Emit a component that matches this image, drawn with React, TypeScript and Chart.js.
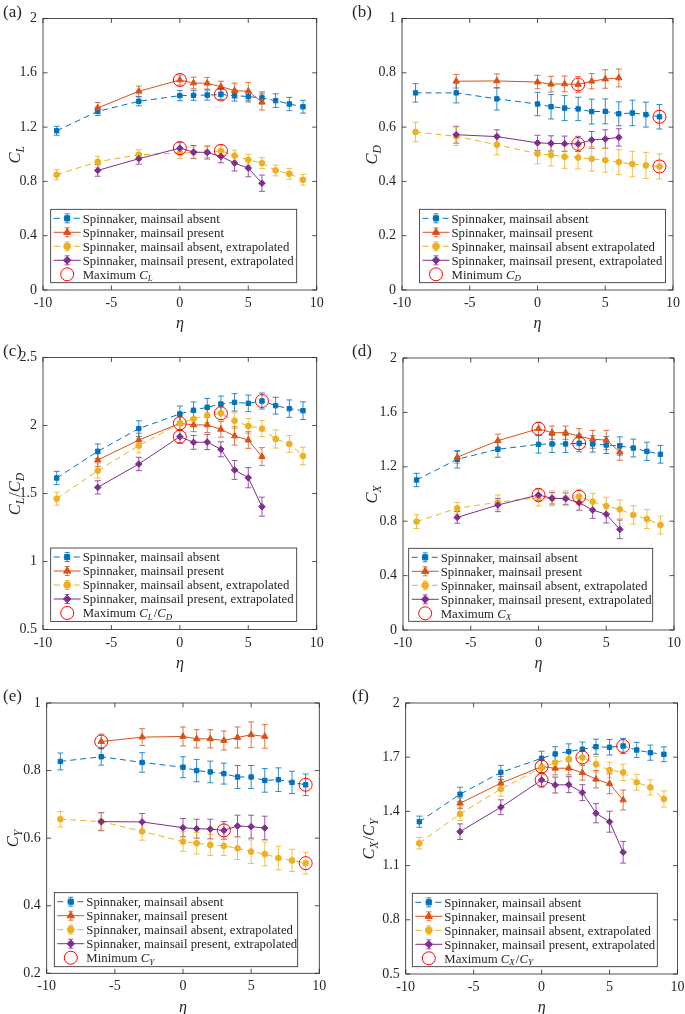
import React, { useEffect, useRef } from 'react';
import { Chart, registerables } from 'chart.js';
Chart.register(...registerables);

const FONT = '"Liberation Serif", "Times New Roman", serif';
Chart.defaults.font.family = FONT;

const BLUE = '#0072BD';
const ORANGE = '#D95319';
const YELLOW = '#EDB120';
const PURPLE = '#7E2F8E';
const RED = '#FF0000';
const AXIS = '#262626';

// ---------- shared categories / ticks ----------
const etaAbsent = [-9, -6, -3, 0, 1, 2, 3, 4, 5, 6, 7, 8, 9];
const etaPresent = [-6, -3, 0, 1, 2, 3, 4, 5, 6];
const xTicks = [-10, -5, 0, 5, 10];

// ---------- (a) C_L ----------
const clAbsent = [1.173, 1.316, 1.39, 1.432, 1.434, 1.436, 1.44, 1.432, 1.425, 1.415, 1.395, 1.37, 1.35];
const clAbsentErr = [0.033, 0.03, 0.033, 0.037, 0.037, 0.037, 0.037, 0.04, 0.04, 0.044, 0.05, 0.049, 0.047];
const clPresent = [1.341, 1.464, 1.547, 1.525, 1.523, 1.498, 1.469, 1.464, 1.385];
const clPresentErr = [0.04, 0.038, 0.037, 0.043, 0.043, 0.04, 0.055, 0.066, 0.059];
const clAbsentExt = [0.849, 0.945, 0.996, 1.01, 1.012, 1.015, 1.025, 0.99, 0.959, 0.935, 0.881, 0.856, 0.812];
const clAbsentExtErr = [0.037, 0.04, 0.037, 0.04, 0.04, 0.04, 0.04, 0.04, 0.04, 0.04, 0.04, 0.04, 0.04];
const clPresentExt = [0.881, 0.967, 1.045, 1.016, 1.013, 0.984, 0.935, 0.898, 0.787];
const clPresentExtErr = [0.043, 0.04, 0.043, 0.048, 0.048, 0.047, 0.058, 0.064, 0.06];
const clMarkEta = [0, 3, 0, 3];
const clMarkVal = [1.547, 1.44, 1.045, 1.025];
const yTicksCL = [0, 0.4, 0.8, 1.2, 1.6, 2];

// ---------- (b) C_D ----------
const cdAbsent = [0.726, 0.726, 0.704, 0.685, 0.675, 0.67, 0.667, 0.657, 0.658, 0.649, 0.652, 0.646, 0.638];
const cdAbsentErr = [0.034, 0.037, 0.041, 0.043, 0.045, 0.046, 0.043, 0.046, 0.046, 0.044, 0.047, 0.046, 0.045];
const cdPresent = [0.769, 0.77, 0.766, 0.758, 0.759, 0.757, 0.769, 0.777, 0.781];
const cdPresentErr = [0.025, 0.026, 0.025, 0.029, 0.029, 0.029, 0.028, 0.034, 0.033];
const cdAbsentExt = [0.582, 0.566, 0.535, 0.502, 0.497, 0.491, 0.488, 0.483, 0.478, 0.471, 0.464, 0.459, 0.455];
const cdAbsentExtErr = [0.036, 0.034, 0.037, 0.037, 0.04, 0.043, 0.042, 0.045, 0.044, 0.046, 0.047, 0.048, 0.046];
const cdPresentExt = [0.572, 0.565, 0.542, 0.54, 0.539, 0.538, 0.553, 0.556, 0.562];
const cdPresentExtErr = [0.031, 0.025, 0.028, 0.028, 0.028, 0.028, 0.031, 0.034, 0.032];
const cdMarkEta = [3, 9, 3, 9];
const cdMarkVal = [0.757, 0.638, 0.538, 0.455];
const yTicksCD = [0, 0.2, 0.4, 0.6, 0.8, 1];

// ---------- (c) C_L / C_D ----------
const ldAbsent = [1.614, 1.81, 1.977, 2.085, 2.112, 2.134, 2.158, 2.17, 2.163, 2.18, 2.146, 2.124, 2.109];
const ldAbsentErr = [0.049, 0.054, 0.058, 0.058, 0.061, 0.065, 0.058, 0.064, 0.061, 0.059, 0.062, 0.064, 0.065];
const ldPresent = [1.746, 1.893, 2.016, 2.004, 2.004, 1.972, 1.923, 1.893, 1.771];
const ldPresentErr = [0.047, 0.051, 0.054, 0.049, 0.056, 0.058, 0.067, 0.061, 0.066];
const ldAbsentExt = [1.462, 1.668, 1.852, 2.016, 2.048, 2.075, 2.09, 2.035, 1.996, 1.977, 1.901, 1.864, 1.776];
const ldAbsentExtErr = [0.048, 0.055, 0.053, 0.052, 0.053, 0.053, 0.049, 0.058, 0.055, 0.059, 0.067, 0.062, 0.065];
const ldPresentExt = [1.545, 1.717, 1.918, 1.876, 1.878, 1.825, 1.673, 1.616, 1.403];
const ldPresentExtErr = [0.049, 0.049, 0.049, 0.051, 0.055, 0.055, 0.069, 0.074, 0.07];
const ldMarkEta = [0, 6, 0, 3];
const ldMarkVal = [2.016, 2.18, 1.918, 2.09];
const yTicksLD = [0.5, 1, 1.5, 2, 2.5];

// ---------- (d) C_X ----------
const cxAbsent = [1.103, 1.255, 1.329, 1.365, 1.368, 1.368, 1.373, 1.368, 1.36, 1.353, 1.338, 1.314, 1.292];
const cxAbsentErr = [0.049, 0.064, 0.059, 0.064, 0.063, 0.063, 0.063, 0.06, 0.062, 0.067, 0.066, 0.067, 0.065];
const cxPresent = [1.27, 1.392, 1.48, 1.451, 1.451, 1.426, 1.402, 1.397, 1.309];
const cxPresentErr = [0.043, 0.048, 0.047, 0.049, 0.049, 0.055, 0.066, 0.071, 0.061];
const cxAbsentExt = [0.797, 0.895, 0.939, 0.975, 0.968, 0.968, 0.98, 0.944, 0.912, 0.887, 0.846, 0.816, 0.772];
const cxAbsentExtErr = [0.051, 0.043, 0.054, 0.064, 0.055, 0.055, 0.055, 0.061, 0.064, 0.069, 0.067, 0.07, 0.066];
const cxPresentExt = [0.828, 0.919, 0.993, 0.968, 0.966, 0.936, 0.882, 0.851, 0.74];
const cxPresentExtErr = [0.043, 0.049, 0.045, 0.042, 0.042, 0.055, 0.061, 0.064, 0.069];
const cxMarkEta = [0, 3, 0, 3];
const cxMarkVal = [1.48, 1.373, 0.993, 0.98];
const yTicksCX = [0, 0.4, 0.8, 1.2, 1.6, 2];

// ---------- (e) C_Y ----------
const cyAbsent = [0.827, 0.841, 0.824, 0.81, 0.8, 0.796, 0.791, 0.781, 0.781, 0.771, 0.773, 0.765, 0.758];
const cyAbsentErr = [0.025, 0.025, 0.029, 0.031, 0.033, 0.032, 0.031, 0.034, 0.034, 0.035, 0.035, 0.033, 0.032];
const cyPresent = [0.886, 0.899, 0.901, 0.894, 0.894, 0.889, 0.898, 0.906, 0.901];
const cyPresentErr = [0.022, 0.025, 0.028, 0.027, 0.027, 0.028, 0.031, 0.038, 0.035];
const cyAbsentExt = [0.656, 0.649, 0.62, 0.59, 0.585, 0.58, 0.577, 0.57, 0.56, 0.553, 0.541, 0.534, 0.526];
const cyAbsentExtErr = [0.023, 0.025, 0.026, 0.029, 0.032, 0.031, 0.028, 0.033, 0.035, 0.035, 0.035, 0.033, 0.032];
const cyPresentExt = [0.649, 0.648, 0.631, 0.628, 0.627, 0.623, 0.636, 0.634, 0.63];
const cyPresentExtErr = [0.027, 0.025, 0.027, 0.028, 0.029, 0.026, 0.032, 0.034, 0.035];
const cyMarkEta = [-6, 9, 3, 9];
const cyMarkVal = [0.886, 0.758, 0.623, 0.526];
const yTicksCY = [0.2, 0.4, 0.6, 0.8, 1];

// ---------- (f) C_X / C_Y ----------
const xyAbsent = [1.343, 1.495, 1.616, 1.694, 1.718, 1.731, 1.744, 1.758, 1.755, 1.762, 1.74, 1.725, 1.716];
const xyAbsentErr = [0.031, 0.039, 0.039, 0.039, 0.04, 0.043, 0.04, 0.042, 0.043, 0.042, 0.042, 0.042, 0.041];
const xyPresent = [1.445, 1.556, 1.648, 1.639, 1.639, 1.614, 1.578, 1.553, 1.463];
const xyPresentErr = [0.03, 0.037, 0.037, 0.037, 0.037, 0.041, 0.048, 0.055, 0.055];
const xyAbsentExt = [1.224, 1.386, 1.524, 1.642, 1.67, 1.69, 1.699, 1.661, 1.629, 1.616, 1.561, 1.533, 1.469];
const xyAbsentExtErr = [0.032, 0.037, 0.04, 0.041, 0.041, 0.043, 0.041, 0.043, 0.043, 0.045, 0.044, 0.042, 0.045];
const xyPresentExt = [1.288, 1.423, 1.574, 1.546, 1.548, 1.504, 1.39, 1.343, 1.174];
const xyPresentExtErr = [0.043, 0.041, 0.04, 0.044, 0.044, 0.044, 0.053, 0.058, 0.06];
const xyMarkEta = [0, 6, 0, 3];
const xyMarkVal = [1.648, 1.762, 1.574, 1.699];
const yTicksXY = [0.5, 0.8, 1.1, 1.4, 1.7, 2];

// ---------- legend labels ----------
const seriesNames = [
  'Spinnaker, mainsail absent',
  'Spinnaker, mainsail present',
  'Spinnaker, mainsail absent, extrapolated',
  'Spinnaker, mainsail present, extrapolated',
];
const seriesNamesB = [
  'Spinnaker, mainsail absent',
  'Spinnaker, mainsail present',
  'Spinnaker, mainsail absent extrapolated',
  'Spinnaker, mainsail present, extrapolated',
];

type Part = { t: string; i?: boolean; s?: boolean };

const STYLES = [
  { color: BLUE, dash: [6, 4], marker: 'rect', r: 3.6 },
  { color: ORANGE, dash: [] as number[], marker: 'triangle', r: 4.2 },
  { color: YELLOW, dash: [6, 4], marker: 'circle', r: 3.4 },
  { color: PURPLE, dash: [] as number[], marker: 'rectRot', r: 3.8 },
];

const TICK_SIZE = 14;
const LEG_SIZE = 12.8;
const YLAB_SIZE = 16.5;

type Series = { eta: number[]; v: number[]; e: number[] };
type PanelDef = {
  tag: string;
  canvas: { x: number; y: number; w: number; h: number };
  area: { l: number; t: number; r: number; b: number };
  yMin: number;
  yMax: number;
  yTicks: number[];
  yLabel: Part[];
  yLabelX: number;
  tagX: number;
  series: Series[];
  markEta: number[];
  markVal: number[];
  legend: { x: number; y: number; w: number; h: number };
  names: string[];
  last: Part[];
};

const PANELS: PanelDef[] = [
  {
    tag: '(a)', canvas: { x: 0, y: 0, w: 342, h: 338 }, area: { l: 43, t: 18.5, r: 316.7, b: 290 },
    yMin: 0, yMax: 2, yTicks: yTicksCL, yLabel: [{ t: 'C', i: true }, { t: 'L', i: true, s: true }], yLabelX: 15, tagX: 3,
    series: [
      { eta: etaAbsent, v: clAbsent, e: clAbsentErr },
      { eta: etaPresent, v: clPresent, e: clPresentErr },
      { eta: etaAbsent, v: clAbsentExt, e: clAbsentExtErr },
      { eta: etaPresent, v: clPresentExt, e: clPresentExtErr },
    ],
    markEta: clMarkEta, markVal: clMarkVal,
    legend: { x: 50.7, y: 209.3, w: 246, h: 73.4 }, names: seriesNames,
    last: [{ t: 'Maximum ' }, { t: 'C', i: true }, { t: 'L', i: true, s: true }],
  },
  {
    tag: '(b)', canvas: { x: 342, y: 0, w: 343, h: 338 }, area: { l: 402, t: 18.5, r: 673, b: 290 },
    yMin: 0, yMax: 1, yTicks: yTicksCD, yLabel: [{ t: 'C', i: true }, { t: 'D', i: true, s: true }], yLabelX: 372, tagX: 352,
    series: [
      { eta: etaAbsent, v: cdAbsent, e: cdAbsentErr },
      { eta: etaPresent, v: cdPresent, e: cdPresentErr },
      { eta: etaAbsent, v: cdAbsentExt, e: cdAbsentExtErr },
      { eta: etaPresent, v: cdPresentExt, e: cdPresentExtErr },
    ],
    markEta: cdMarkEta, markVal: cdMarkVal,
    legend: { x: 419.5, y: 209.3, w: 246, h: 73.4 }, names: seriesNamesB,
    last: [{ t: 'Minimum ' }, { t: 'C', i: true }, { t: 'D', i: true, s: true }],
  },
  {
    tag: '(c)', canvas: { x: 0, y: 338, w: 342, h: 342 }, area: { l: 43, t: 357.5, r: 316.7, b: 629.5 },
    yMin: 0.5, yMax: 2.5, yTicks: yTicksLD,
    yLabel: [{ t: 'C', i: true }, { t: 'L', i: true, s: true }, { t: '/' }, { t: 'C', i: true }, { t: 'D', i: true, s: true }],
    yLabelX: 15, tagX: 3,
    series: [
      { eta: etaAbsent, v: ldAbsent, e: ldAbsentErr },
      { eta: etaPresent, v: ldPresent, e: ldPresentErr },
      { eta: etaAbsent, v: ldAbsentExt, e: ldAbsentExtErr },
      { eta: etaPresent, v: ldPresentExt, e: ldPresentExtErr },
    ],
    markEta: ldMarkEta, markVal: ldMarkVal,
    legend: { x: 50.7, y: 548, w: 246, h: 73.4 }, names: seriesNames,
    last: [{ t: 'Maximum ' }, { t: 'C', i: true }, { t: 'L', i: true, s: true }, { t: '/' }, { t: 'C', i: true }, { t: 'D', i: true, s: true }],
  },
  {
    tag: '(d)', canvas: { x: 342, y: 338, w: 343, h: 342 }, area: { l: 403, t: 358, r: 674, b: 630 },
    yMin: 0, yMax: 2, yTicks: yTicksCX, yLabel: [{ t: 'C', i: true }, { t: 'X', i: true, s: true }], yLabelX: 372, tagX: 352,
    series: [
      { eta: etaAbsent, v: cxAbsent, e: cxAbsentErr },
      { eta: etaPresent, v: cxPresent, e: cxPresentErr },
      { eta: etaAbsent, v: cxAbsentExt, e: cxAbsentExtErr },
      { eta: etaPresent, v: cxPresentExt, e: cxPresentExtErr },
    ],
    markEta: cxMarkEta, markVal: cxMarkVal,
    legend: { x: 408.7, y: 548.3, w: 244, h: 73 }, names: seriesNames,
    last: [{ t: 'Maximum ' }, { t: 'C', i: true }, { t: 'X', i: true, s: true }],
  },
  {
    tag: '(e)', canvas: { x: 0, y: 680, w: 342, h: 334 }, area: { l: 46.7, t: 703, r: 319.3, b: 973.3 },
    yMin: 0.2, yMax: 1, yTicks: yTicksCY, yLabel: [{ t: 'C', i: true }, { t: 'Y', i: true, s: true }], yLabelX: 13, tagX: 3,
    series: [
      { eta: etaAbsent, v: cyAbsent, e: cyAbsentErr },
      { eta: etaPresent, v: cyPresent, e: cyPresentErr },
      { eta: etaAbsent, v: cyAbsentExt, e: cyAbsentExtErr },
      { eta: etaPresent, v: cyPresentExt, e: cyPresentExtErr },
    ],
    markEta: cyMarkEta, markVal: cyMarkVal,
    legend: { x: 54.3, y: 892.7, w: 243.4, h: 74 }, names: seriesNames,
    last: [{ t: 'Minimum ' }, { t: 'C', i: true }, { t: 'Y', i: true, s: true }],
  },
  {
    tag: '(f)', canvas: { x: 342, y: 680, w: 343, h: 334 }, area: { l: 405.7, t: 703, r: 677.7, b: 974 },
    yMin: 0.5, yMax: 2, yTicks: yTicksXY,
    yLabel: [{ t: 'C', i: true }, { t: 'X', i: true, s: true }, { t: '/' }, { t: 'C', i: true }, { t: 'Y', i: true, s: true }],
    yLabelX: 369, tagX: 352,
    series: [
      { eta: etaAbsent, v: xyAbsent, e: xyAbsentErr },
      { eta: etaPresent, v: xyPresent, e: xyPresentErr },
      { eta: etaAbsent, v: xyAbsentExt, e: xyAbsentExtErr },
      { eta: etaPresent, v: xyPresentExt, e: xyPresentExtErr },
    ],
    markEta: xyMarkEta, markVal: xyMarkVal,
    legend: { x: 412.3, y: 893.3, w: 245, h: 73.4 }, names: seriesNames,
    last: [{ t: 'Maximum ' }, { t: 'C', i: true }, { t: 'X', i: true, s: true }, { t: '/' }, { t: 'C', i: true }, { t: 'Y', i: true, s: true }],
  },
];

function setFont(ctx: CanvasRenderingContext2D, p: Part, size: number) {
  const fs = p.s ? size * 0.7 : size;
  ctx.font = `${p.i ? 'italic ' : ''}${fs}px ${FONT}`;
}

function richWidth(ctx: CanvasRenderingContext2D, parts: Part[], size: number) {
  let w = 0;
  for (const p of parts) {
    setFont(ctx, p, size);
    w += ctx.measureText(p.t).width + (p.s ? 1 : 0);
  }
  return w;
}

function drawRich(ctx: CanvasRenderingContext2D, parts: Part[], x: number, baseY: number, size: number) {
  let cx = x;
  ctx.textAlign = 'left';
  ctx.textBaseline = 'alphabetic';
  for (const p of parts) {
    setFont(ctx, p, size);
    ctx.fillText(p.t, cx, baseY + (p.s ? size * 0.22 : 0));
    cx += ctx.measureText(p.t).width + (p.s ? 1 : 0);
  }
}

function drawMarker(ctx: CanvasRenderingContext2D, kind: string, x: number, y: number, r: number) {
  ctx.beginPath();
  if (kind === 'rect') {
    const h = r * Math.SQRT1_2;
    ctx.rect(x - h, y - h, 2 * h, 2 * h);
  } else if (kind === 'triangle') {
    ctx.moveTo(x, y - r);
    ctx.lineTo(x + 0.866 * r, y + 0.5 * r);
    ctx.lineTo(x - 0.866 * r, y + 0.5 * r);
    ctx.closePath();
  } else if (kind === 'circle') {
    ctx.arc(x, y, r, 0, Math.PI * 2);
  } else {
    ctx.moveTo(x - r, y);
    ctx.lineTo(x, y - r);
    ctx.lineTo(x + r, y);
    ctx.lineTo(x, y + r);
    ctx.closePath();
  }
  ctx.fill();
  ctx.stroke();
}

function makePlugin(p: PanelDef) {
  const ox = p.canvas.x;
  const oy = p.canvas.y;
  return {
    id: 'deco' + p.tag.replace(/[()]/g, ''),
    beforeDatasetsDraw(chart: any) {
      const ctx: CanvasRenderingContext2D = chart.ctx;
      const xs = chart.scales.x;
      const ys = chart.scales.y;
      ctx.save();
      ctx.setLineDash([]);
      ctx.lineWidth = 1;
      ctx.globalAlpha = 0.8;
      for (let k = p.series.length - 1; k >= 0; k--) {
        const s = p.series[k];
        ctx.strokeStyle = STYLES[k].color;
        s.eta.forEach((eta, i) => {
          const x = xs.getPixelForValue(eta);
          const y1 = ys.getPixelForValue(s.v[i] - s.e[i]);
          const y2 = ys.getPixelForValue(s.v[i] + s.e[i]);
          ctx.beginPath();
          ctx.moveTo(x, y1);
          ctx.lineTo(x, y2);
          ctx.moveTo(x - 3, y1);
          ctx.lineTo(x + 3, y1);
          ctx.moveTo(x - 3, y2);
          ctx.lineTo(x + 3, y2);
          ctx.stroke();
        });
      }
      ctx.restore();
    },
    afterDatasetsDraw(chart: any) {
      const ctx: CanvasRenderingContext2D = chart.ctx;
      const { left, right, top, bottom } = chart.chartArea;
      const xs = chart.scales.x;
      const ys = chart.scales.y;
      ctx.save();
      ctx.setLineDash([]);
      ctx.strokeStyle = AXIS;
      ctx.lineWidth = 0.8;
      ctx.strokeRect(left, top, right - left, bottom - top);
      const tl = 4.5;
      ctx.beginPath();
      xTicks.forEach((v) => {
        const x = xs.getPixelForValue(v);
        ctx.moveTo(x, bottom);
        ctx.lineTo(x, bottom - tl);
        ctx.moveTo(x, top);
        ctx.lineTo(x, top + tl);
      });
      p.yTicks.forEach((v) => {
        const y = ys.getPixelForValue(v);
        ctx.moveTo(left, y);
        ctx.lineTo(left + tl, y);
        ctx.moveTo(right, y);
        ctx.lineTo(right - tl, y);
      });
      ctx.stroke();
      ctx.restore();
    },
    afterDraw(chart: any) {
      const ctx: CanvasRenderingContext2D = chart.ctx;
      const { left, right, bottom, top } = chart.chartArea;
      ctx.save();
      // legend
      const L = p.legend;
      const bx = L.x - ox;
      const by = L.y - oy;
      ctx.fillStyle = '#ffffff';
      ctx.fillRect(bx, by, L.w, L.h);
      ctx.strokeStyle = AXIS;
      ctx.lineWidth = 0.8;
      ctx.setLineDash([]);
      ctx.strokeRect(bx, by, L.w, L.h);
      for (let i = 0; i < 5; i++) {
        const cy = by + 9 + i * 14;
        const mx = bx + 16.5;
        if (i < 4) {
          const st = STYLES[i];
          ctx.strokeStyle = st.color;
          ctx.fillStyle = st.color;
          ctx.lineWidth = 1;
          ctx.setLineDash(st.dash);
          ctx.beginPath();
          ctx.moveTo(bx + 3, cy);
          ctx.lineTo(bx + 30, cy);
          ctx.stroke();
          ctx.setLineDash([]);
          ctx.globalAlpha = 0.8;
          ctx.beginPath();
          ctx.moveTo(mx, cy - 4.5);
          ctx.lineTo(mx, cy + 4.5);
          ctx.moveTo(mx - 2.5, cy - 4.5);
          ctx.lineTo(mx + 2.5, cy - 4.5);
          ctx.moveTo(mx - 2.5, cy + 4.5);
          ctx.lineTo(mx + 2.5, cy + 4.5);
          ctx.stroke();
          ctx.globalAlpha = 1;
          ctx.lineWidth = 1;
          drawMarker(ctx, st.marker, mx, cy, st.r);
          ctx.fillStyle = AXIS;
          drawRich(ctx, [{ t: p.names[i] }], bx + 32, cy + LEG_SIZE * 0.33, LEG_SIZE);
        } else {
          ctx.strokeStyle = RED;
          ctx.lineWidth = 1;
          ctx.beginPath();
          ctx.arc(mx, cy, 6.5, 0, Math.PI * 2);
          ctx.stroke();
          ctx.fillStyle = AXIS;
          drawRich(ctx, p.last, bx + 32, cy + LEG_SIZE * 0.33, LEG_SIZE);
        }
      }
      // x label
      ctx.fillStyle = AXIS;
      ctx.font = `italic 16px ${FONT}`;
      ctx.textAlign = 'center';
      ctx.textBaseline = 'middle';
      ctx.fillText('\u03B7', (left + right) / 2, bottom + 34);
      // y label (rotated)
      const w = richWidth(ctx, p.yLabel, YLAB_SIZE);
      ctx.save();
      ctx.translate(p.yLabelX - ox, (top + bottom) / 2);
      ctx.rotate(-Math.PI / 2);
      drawRich(ctx, p.yLabel, -w / 2, YLAB_SIZE * 0.33, YLAB_SIZE);
      ctx.restore();
      // panel tag
      ctx.fillStyle = AXIS;
      ctx.font = `17px ${FONT}`;
      ctx.textAlign = 'left';
      ctx.textBaseline = 'middle';
      ctx.fillText(p.tag, p.tagX - ox, top - 6);
      ctx.restore();
    },
  };
}

function buildConfig(p: PanelDef): any {
  const yW = p.area.l - p.canvas.x;
  const padT = p.area.t - p.canvas.y;
  const padR = p.canvas.x + p.canvas.w - p.area.r;
  const xH = p.canvas.y + p.canvas.h - p.area.b;

  const datasets: any[] = [
    {
      data: p.markEta.map((x, i) => ({ x, y: p.markVal[i] })),
      showLine: false,
      pointStyle: 'circle',
      pointRadius: 6.5,
      pointBorderWidth: 1,
      pointBorderColor: RED,
      pointBackgroundColor: 'rgba(0,0,0,0)',
      borderColor: RED,
      backgroundColor: 'rgba(0,0,0,0)',
      order: 0,
    },
  ];
  for (let k = 3; k >= 0; k--) {
    const s = p.series[k];
    const st = STYLES[k];
    datasets.push({
      data: s.eta.map((x, i) => ({ x, y: s.v[i] })),
      borderColor: st.color,
      backgroundColor: st.color,
      pointBackgroundColor: st.color,
      pointBorderColor: st.color,
      borderWidth: 1,
      borderDash: st.dash,
      pointStyle: st.marker,
      pointRadius: st.r - 0.5,
      pointBorderWidth: 1,
      tension: 0,
      fill: false,
      order: 4 - k,
    });
  }

  const tickFont = { family: FONT, size: TICK_SIZE };
  return {
    type: 'line',
    data: { datasets },
    options: {
      animation: false,
      responsive: false,
      devicePixelRatio: 1,
      events: [],
      layout: { padding: { left: 0, top: padT, right: padR, bottom: 0 } },
      plugins: { legend: { display: false }, tooltip: { enabled: false }, title: { display: false } },
      scales: {
        x: {
          type: 'linear',
          min: -10,
          max: 10,
          afterBuildTicks: (s: any) => {
            s.ticks = xTicks.map((v) => ({ value: v }));
          },
          afterFit: (s: any) => {
            s.height = xH;
            s.paddingLeft = 0;
            s.paddingRight = 0;
          },
          grid: { display: false, drawTicks: false },
          border: { display: false },
          ticks: {
            padding: 5,
            font: tickFont,
            color: AXIS,
            maxRotation: 0,
            autoSkip: false,
            callback: (v: any) => String(v),
          },
        },
        y: {
          type: 'linear',
          min: p.yMin,
          max: p.yMax,
          afterBuildTicks: (s: any) => {
            s.ticks = p.yTicks.map((v) => ({ value: v }));
          },
          afterFit: (s: any) => {
            s.width = yW;
            s.paddingTop = 0;
            s.paddingBottom = 0;
          },
          grid: { display: false, drawTicks: false },
          border: { display: false },
          ticks: {
            padding: 6,
            font: tickFont,
            color: AXIS,
            autoSkip: false,
            callback: (v: any) => String(v),
          },
        },
      },
    },
    plugins: [makePlugin(p)],
  };
}

function Panel({ p }: { p: PanelDef }) {
  const ref = useRef<HTMLCanvasElement>(null);
  useEffect(() => {
    if (!ref.current) return;
    const chart = new Chart(ref.current, buildConfig(p));
    return () => chart.destroy();
  }, [p]);
  return (
    <canvas
      ref={ref}
      width={p.canvas.w}
      height={p.canvas.h}
      style={{ position: 'absolute', left: p.canvas.x, top: p.canvas.y, width: p.canvas.w, height: p.canvas.h, display: 'block' }}
    />
  );
}

export default function App() {
  return (
    <div style={{ position: 'absolute', left: 0, top: 0, width: 685, height: 1014, background: '#ffffff', overflow: 'hidden' }}>
      {PANELS.map((p) => (
        <Panel key={p.tag} p={p} />
      ))}
    </div>
  );
}
